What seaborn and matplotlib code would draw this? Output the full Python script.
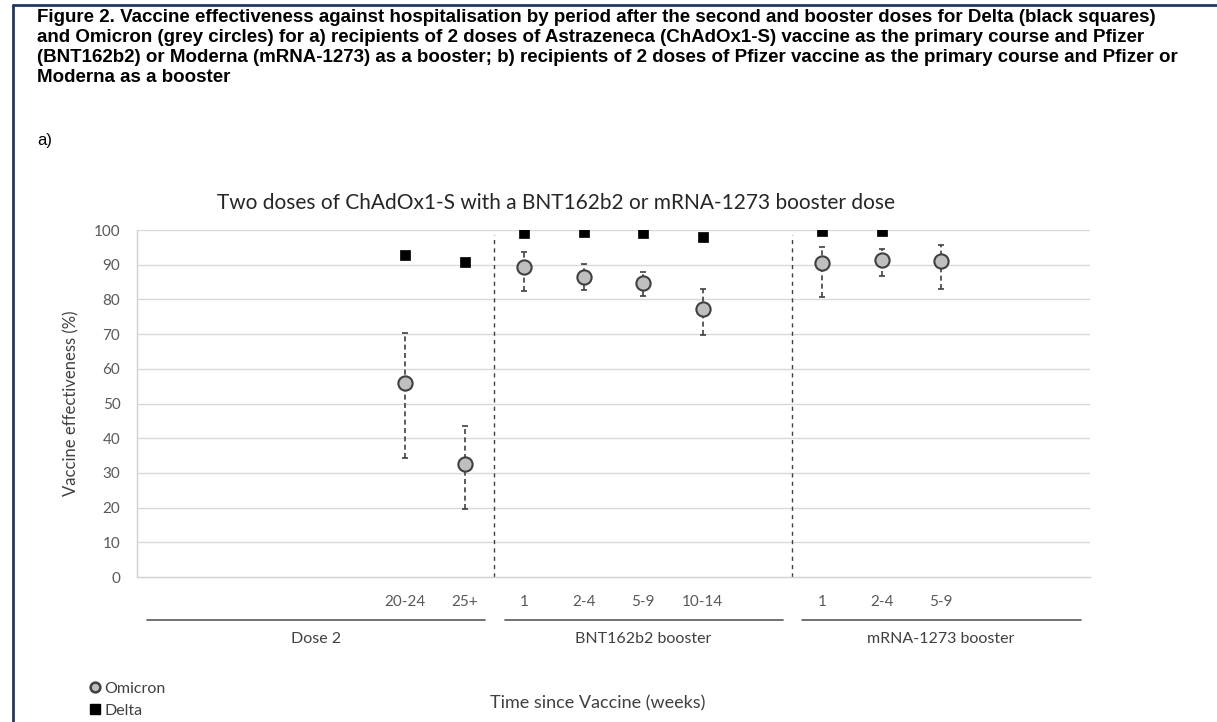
import numpy as np
import pandas as pd
import matplotlib
matplotlib.use("Agg")
import matplotlib.pyplot as plt
import matplotlib.transforms as mtransforms
from matplotlib.lines import Line2D
import seaborn as sns

# ---------------- data ----------------
groups = ["Dose 2", "BNT162b2 booster", "mRNA-1273 booster"]
group_periods = [
    ["", "", "", "", "20-24", "25+"],
    ["1", "2-4", "5-9", "10-14", ""],
    ["1", "2-4", "5-9", "", ""],
]

omicron_slots = ["D2|20-24", "D2|25+", "BNT|1", "BNT|2-4", "BNT|5-9", "BNT|10-14",
                 "MOD|1", "MOD|2-4", "MOD|5-9"]
omicron_ve = [55.8, 32.6, 89.3, 86.5, 84.6, 77.2, 90.4, 91.4, 91.2]
omicron_lo = [34.2, 19.5, 82.4, 82.7, 81.1, 69.7, 80.8, 86.7, 83.0]
omicron_hi = [70.2, 43.6, 93.6, 90.2, 88.0, 83.0, 95.2, 94.4, 95.7]

delta_slots = ["D2|20-24", "D2|25+", "BNT|1", "BNT|2-4", "BNT|5-9", "BNT|10-14",
               "MOD|1", "MOD|2-4"]
delta_ve = [92.8, 90.7, 99.2, 99.3, 99.0, 98.1, 99.8, 99.7]
delta_lo = [91.6, 90.0, 98.8, 99.0, 98.6, 96.8, 99.5, 99.4]
delta_hi = [93.8, 91.4, 99.5, 99.6, 99.3, 98.8, 99.9, 99.9]

group_keys = ["D2", "BNT", "MOD"]

caption_lines = [
    "Figure 2. Vaccine effectiveness against hospitalisation by period after the second and booster doses for Delta (black squares)",
    "and Omicron (grey circles) for a) recipients of 2 doses of Astrazeneca (ChAdOx1-S) vaccine as the primary course and Pfizer",
    "(BNT162b2) or Moderna (mRNA-1273) as a booster; b) recipients of 2 doses of Pfizer vaccine as the primary course and Pfizer or",
    "Moderna as a booster",
]

# ---------------- category positions ----------------
slot_labels = []
slot_keys = []
group_bounds = []
for gk, periods in zip(group_keys, group_periods):
    start = len(slot_labels)
    for p in periods:
        slot_labels.append(p)
        slot_keys.append(f"{gk}|{p}" if p else None)
    group_bounds.append((start, len(slot_labels)))
pos = {k: i for i, k in enumerate(slot_keys) if k}

om = pd.DataFrame({"x": [pos[s] for s in omicron_slots], "ve": omicron_ve,
                   "lo": omicron_lo, "hi": omicron_hi, "variant": "Omicron"})
de = pd.DataFrame({"x": [pos[s] for s in delta_slots], "ve": delta_ve,
                   "lo": delta_lo, "hi": delta_hi, "variant": "Delta"})

# ---------------- figure ----------------
sns.set_theme(style="white")
plt.rcParams["font.family"] = ["Lato", "DejaVu Sans"]

W, H = 1217, 722
fig = plt.figure(figsize=(W / 100, H / 100), dpi=100)
ax = fig.add_axes([0.1126, 0.2008, 0.7831, 0.4806])

tick_col = "#595959"
text_col = "#404040"

# grid
for v in range(10, 101, 10):
    ax.axhline(v, color="#d9d9d9", lw=1.0, zorder=0)

# error bars
def draw_err(df, color, capsize):
    eb = ax.errorbar(df["x"], df["ve"],
                     yerr=[df["ve"] - df["lo"], df["hi"] - df["ve"]],
                     fmt="none", ecolor=color, elinewidth=1.2,
                     capsize=capsize, capthick=1.2, zorder=2)
    for lc in eb[2]:
        lc.set_linestyle((0, (3, 2)))
    return eb

draw_err(om, "#404040", 2.5)
draw_err(de, "#404040", 2.5)

sns.scatterplot(data=om, x="x", y="ve", marker="o", s=105, color="#bfbfbf",
                edgecolor="#404040", linewidth=1.5, ax=ax, zorder=3, legend=False)
sns.scatterplot(data=de, x="x", y="ve", marker="s", s=55, color="black",
                edgecolor="black", linewidth=0.5, ax=ax, zorder=3, legend=False)

# dividers between groups
for (_, end) in group_bounds[:-1]:
    ax.plot([end - 0.5, end - 0.5], [0, 98.6], color="#404040", lw=1.0,
            ls=(0, (3, 3)), zorder=1)

ax.set_xlim(-0.5, len(slot_labels) - 0.5)
ax.set_ylim(0, 100)
ax.set_yticks(range(0, 101, 10))
ax.set_yticklabels([str(v) for v in range(0, 101, 10)])
ax.set_xticks(range(len(slot_labels)))
ax.set_xticklabels(slot_labels)
ax.tick_params(axis="x", length=0, pad=13, labelsize=11, colors=tick_col)
ax.tick_params(axis="y", length=0, pad=12, labelsize=11, colors=tick_col)
for side in ["top", "right"]:
    ax.spines[side].set_visible(False)
for side in ["left", "bottom"]:
    ax.spines[side].set_color("#d0d0d0")
    ax.spines[side].set_linewidth(1.0)

ax.set_xlabel("")
ax.set_ylabel("Vaccine effectiveness (%)", fontsize=12, color=text_col, labelpad=10)
fig.text(0.457, 0.719, "Two doses of ChAdOx1-S with a BNT162b2 or mRNA-1273 booster dose",
         ha="center", va="center", fontsize=15, color="#262626")

# group lines and labels
trans = mtransforms.blended_transform_factory(ax.transData, ax.transAxes)
for g, (s, e) in zip(groups, group_bounds):
    ax.add_line(Line2D([s - 0.33, e - 0.65], [-0.124, -0.124], transform=trans,
                       color="#595959", lw=1.2, clip_on=False))
    ax.text((s + e - 1) / 2, -0.18, g, transform=trans, ha="center", va="center",
            fontsize=11.5, color=text_col)

fig.text(0.491, 0.026, "Time since Vaccine (weeks)", ha="center", va="center",
         fontsize=13, color=text_col)

# legend
handles = [
    Line2D([], [], marker="o", ls="none", markersize=7, markerfacecolor="#bfbfbf",
           markeredgecolor="#404040", markeredgewidth=1.8, label="Omicron"),
    Line2D([], [], marker="s", ls="none", markersize=7, markerfacecolor="black",
           markeredgecolor="black", label="Delta"),
]
fig.legend(handles=handles, loc="lower left", bbox_to_anchor=(0.062, -0.014),
           frameon=False, fontsize=11.5, handlelength=0.6, handletextpad=0.3,
           labelspacing=0.5, labelcolor=text_col)

# caption, one line at a time
for i, line in enumerate(caption_lines):
    ypx = 18 + 20 * i
    fig.text(37 / W, 1 - ypx / H, line, ha="left", va="center", fontsize=13.5,
             fontweight="bold", family=["Liberation Sans", "DejaVu Sans"],
             color="black")
fig.text(37 / W, 1 - 140 / H, "a)", ha="left", va="center", fontsize=12,
         family=["Liberation Sans", "DejaVu Sans"], color="black")

# border of the figure panel
border_col = "#203864"
fig.add_artist(Line2D([0.0107, 1.0], [0.993, 0.993], transform=fig.transFigure,
                      color=border_col, lw=2))
fig.add_artist(Line2D([0.0107, 0.0107], [0.0, 0.993], transform=fig.transFigure,
                      color=border_col, lw=2))

fig.savefig("out.png", dpi=100)
